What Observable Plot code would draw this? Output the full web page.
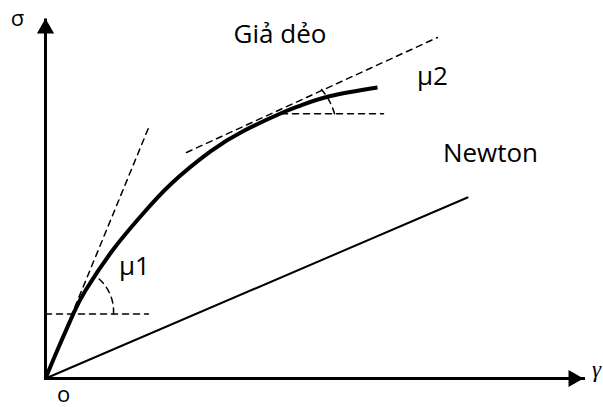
<!DOCTYPE html>
<html>
<head>
<meta charset="utf-8">
<script src="https://cdn.jsdelivr.net/npm/d3@7"></script>
<script src="https://cdn.jsdelivr.net/npm/@observablehq/plot@0.6"></script>
<style>
  html, body { margin: 0; padding: 0; background: #fff; }
</style>
</head>
<body>
<div id="chart"></div>
<script>
// Shear rate γ and shear stress σ, in arbitrary units (0–100 on each axis)
const pseudoGamma = [0, 2.42, 5.20, 7.43, 12.45, 17.66, 23.23, 30.67, 36.80, 43.68, 47.40, 52.97, 61.71];
const pseudoSigma = [0, 8.61, 18.06, 24.44, 35.56, 45.00, 53.89, 63.06, 68.75, 73.61, 75.83, 78.47, 80.83];

// Newtonian fluid: straight line through the origin
const newtonGamma = [0, 78.44];
const newtonSigma = [0, 50.28];

// Tangent at the origin (μ1) and its horizontal reference
const tangent1Gamma = [0, 19.33];
const tangent1Sigma = [0, 70.28];
const level1Gamma = [0, 19.14];
const level1Sigma = [17.92, 17.92];

// Tangent on the flattening part (μ2) and its horizontal reference
const tangent2Gamma = [26.21, 72.86];
const tangent2Sigma = [62.78, 94.72];
const level2Gamma = [43.87, 62.83];
const level2Sigma = [73.53, 73.53];

// Angle marks: start on the horizontal, end toward the tangent
const angle1 = {g1: 12.64, s1: 17.92, g2: 9.85, s2: 27.78};
const angle2 = {g1: 53.72, s1: 73.53, g2: 51.30, s2: 80.28};

// Curve and angle labels
const labelText = ["Giả dẻo", "Newton", "μ1", "μ2"];
const labelGamma = [43.59, 82.71, 16.54, 71.93];
const labelSigma = [95.56, 62.50, 31.11, 83.89];

const axisMax = 100;

const toPoints = (xs, ys) => xs.map((x, i) => ({x, y: ys[i]}));
const labels = labelText.map((t, i) => ({t, x: labelGamma[i], y: labelSigma[i]}));

const dash = {stroke: "black", strokeWidth: 1.5, strokeDasharray: "6,5"};
const arc = {x1: "g1", y1: "s1", x2: "g2", y2: "s2", headLength: 0, ...dash};

const chart = Plot.plot({
  width: 603,
  height: 407,
  marginLeft: 45,
  marginRight: 20,
  marginTop: 18,
  marginBottom: 29,
  x: {domain: [0, axisMax], axis: null},
  y: {domain: [0, axisMax], axis: null},
  style: {fontFamily: "Open Sans", background: "white", overflow: "visible"},
  marks: [
    // dashed construction lines
    Plot.line(toPoints(tangent1Gamma, tangent1Sigma), {x: "x", y: "y", ...dash}),
    Plot.line(toPoints(level1Gamma, level1Sigma), {x: "x", y: "y", ...dash}),
    Plot.line(toPoints(tangent2Gamma, tangent2Sigma), {x: "x", y: "y", ...dash}),
    Plot.line(toPoints(level2Gamma, level2Sigma), {x: "x", y: "y", ...dash}),
    // angle arcs
    Plot.arrow([angle1], {...arc, bend: -26.5}),
    Plot.arrow([angle2], {...arc, bend: -12.5}),
    // Newtonian line
    Plot.line(toPoints(newtonGamma, newtonSigma), {x: "x", y: "y", stroke: "black", strokeWidth: 2}),
    // pseudo-plastic flow curve
    Plot.line(toPoints(pseudoGamma, pseudoSigma), {x: "x", y: "y", curve: "natural", stroke: "black", strokeWidth: 4, strokeLinecap: "butt"}),
    // axes with arrowheads
    Plot.link([{x1: 0, y1: 0, x2: axisMax, y2: 0}], {x1: "x1", y1: "y1", x2: "x2", y2: "y2", stroke: "black", strokeWidth: 3, strokeLinecap: "square"}),
    Plot.link([{x1: 0, y1: 0, x2: 0, y2: axisMax}], {x1: "x1", y1: "y1", x2: "x2", y2: "y2", stroke: "black", strokeWidth: 3, strokeLinecap: "butt"}),
    Plot.dot([{x: 0, y: axisMax}], {x: "x", y: "y", symbol: "triangle", r: 6.4, fill: "black", dy: 10}),
    Plot.dot([{x: axisMax, y: 0}], {x: "x", y: "y", symbol: "triangle", r: 6.4, fill: "black", rotate: 90, dx: -10}),
    // axis names and origin
    Plot.text(["σ"], {x: 0, y: axisMax, text: (d) => d, dx: -28, fontSize: 22}),
    Plot.text(["γ"], {x: axisMax, y: 0, text: (d) => d, dx: 13, dy: -9, fontSize: 23, fontFamily: "Liberation Serif", fontStyle: "italic"}),
    Plot.text(["o"], {x: 0, y: 0, text: (d) => d, dx: 18, dy: 16, fontSize: 22}),
    // curve and angle labels
    Plot.text(labels, {x: "x", y: "y", text: "t", fontSize: 26, fill: "black"})
  ]
});

document.getElementById("chart").append(chart);
</script>
</body>
</html>
